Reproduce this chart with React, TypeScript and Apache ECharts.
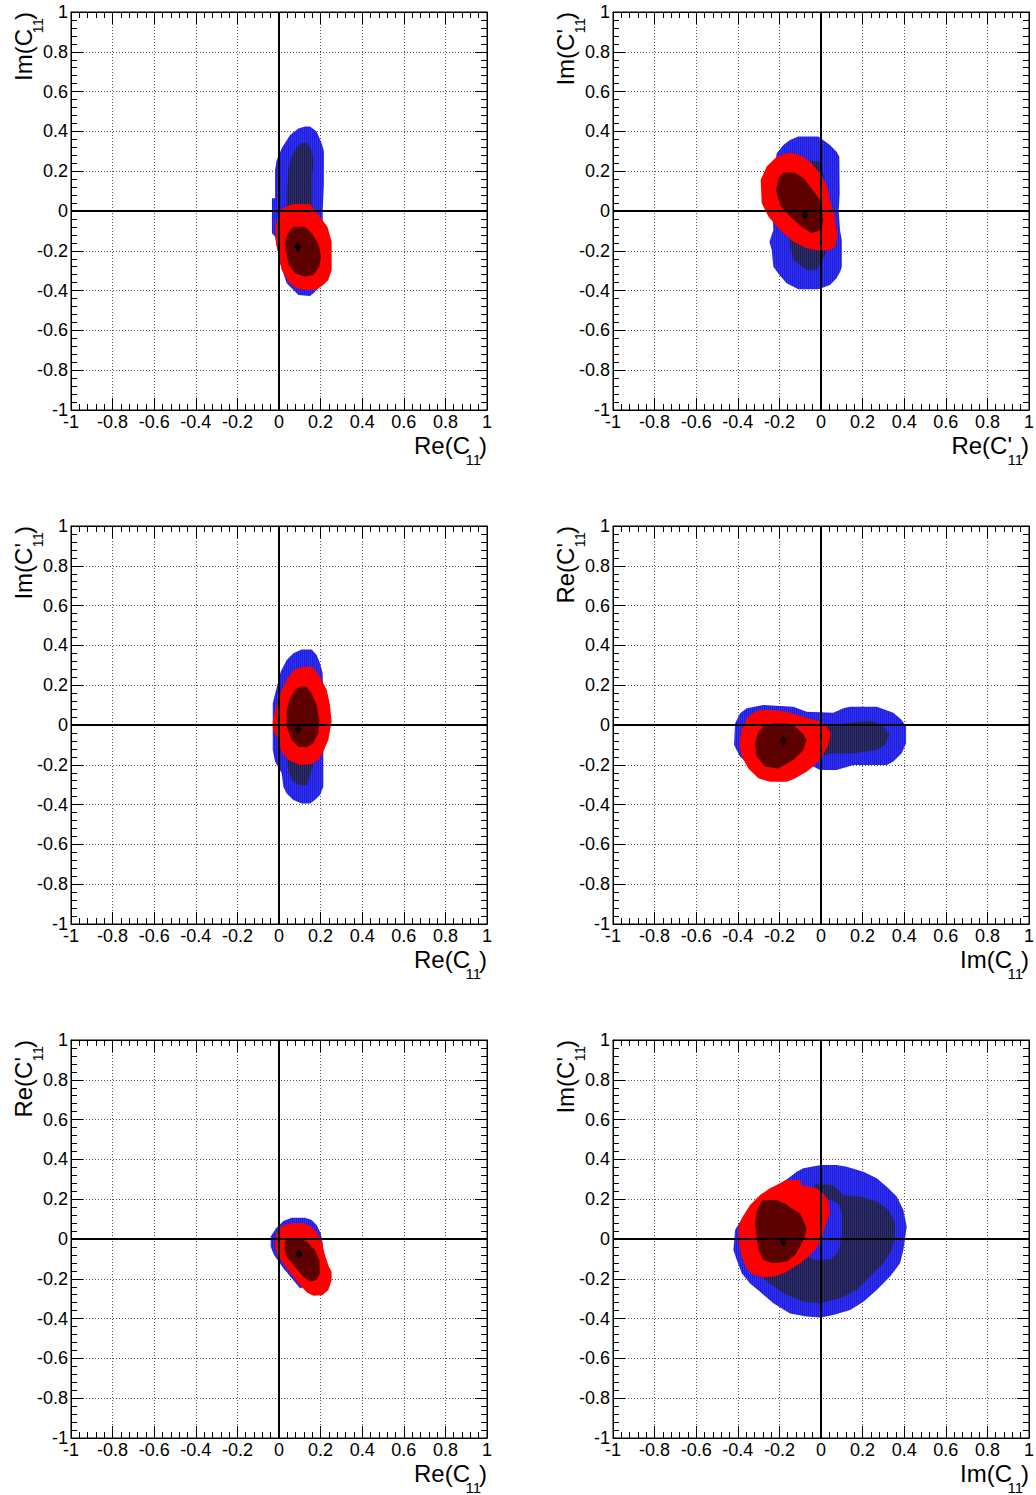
import React, { useEffect, useRef } from "react";
import * as echarts from "echarts";

type Pt = [number, number];

// Axis ticks shared by every panel
const tickValues = [-1, -0.8, -0.6, -0.4, -0.2, 0, 0.2, 0.4, 0.6, 0.8, 1];

// Panel 1: Re(C11) vs Im(C11)
const p1OuterBlue: Pt[] = [[0.125,0.424],[0.149,0.424],[0.181,0.399],[0.205,0.34],[0.216,0.3],[0.216,0.14],[0.21,0.0],[0.21,-0.2],[0.205,-0.33],[0.197,-0.38],[0.17,-0.41],[0.149,-0.427],[0.093,-0.422],[0.037,-0.363],[0.005,-0.263],[-0.019,-0.13],[-0.034,-0.112],[-0.034,0.064],[-0.019,0.064],[-0.019,0.206],[-0.011,0.256],[0.013,0.315],[0.053,0.382],[0.093,0.415]];
const p1InnerBlue: Pt[] = [[0.111,0.342],[0.135,0.342],[0.157,0.306],[0.165,0.26],[0.165,0.22],[0.157,0.17],[0.16,0.0],[0.17,-0.2],[0.14,-0.3],[0.09,-0.3],[0.04,-0.2],[0.037,0.089],[0.045,0.206],[0.06,0.27],[0.085,0.32]];
const p1OuterRed: Pt[] = [[0.069,0.035],[0.149,0.035],[0.197,-0.03],[0.233,-0.079],[0.253,-0.154],[0.253,-0.296],[0.237,-0.347],[0.213,-0.372],[0.181,-0.394],[0.125,-0.397],[0.085,-0.389],[0.045,-0.355],[0.013,-0.297],[-0.003,-0.213],[-0.014,-0.163],[-0.019,-0.079],[0.005,0.005],[0.037,0.022]];
const p1InnerRed: Pt[] = [[0.069,-0.079],[0.125,-0.079],[0.157,-0.112],[0.189,-0.163],[0.202,-0.23],[0.194,-0.28],[0.165,-0.322],[0.125,-0.33],[0.077,-0.313],[0.048,-0.271],[0.034,-0.204],[0.029,-0.163],[0.04,-0.121],[0.061,-0.087]];
const p1Best: Pt = [0.09, -0.18];

// Panel 2: Re(C'11) vs Im(C'11)
const p2OuterBlue: Pt[] = [[-0.109,0.374],[-0.013,0.374],[0.043,0.332],[0.075,0.298],[0.088,0.273],[0.09,0.09],[0.085,0.0],[0.092,-0.1],[0.1,-0.146],[0.1,-0.28],[0.092,-0.305],[0.075,-0.338],[0.043,-0.372],[-0.013,-0.393],[-0.109,-0.393],[-0.165,-0.363],[-0.2,-0.321],[-0.229,-0.28],[-0.237,-0.196],[-0.248,-0.154],[-0.229,-0.095],[-0.24,0.1],[-0.213,0.29],[-0.181,0.332],[-0.149,0.357]];
const p2InnerBlue: Pt[] = [[-0.045,0.253],[-0.005,0.248],[0.011,0.189],[0.024,0.039],[0.031,-0.129],[0.024,-0.213],[-0.021,-0.296],[-0.069,-0.296],[-0.133,-0.246],[-0.149,-0.179],[-0.165,0.039],[-0.085,0.223]];
const p2OuterRed: Pt[] = [[-0.165,0.29],[-0.133,0.29],[-0.085,0.273],[-0.045,0.24],[-0.005,0.189],[0.031,0.122],[0.043,0.055],[0.063,-0.012],[0.079,-0.12],[0.068,-0.179],[0.043,-0.196],[-0.005,-0.2],[-0.069,-0.187],[-0.133,-0.154],[-0.197,-0.095],[-0.253,-0.028],[-0.285,0.039],[-0.29,0.156],[-0.261,0.223],[-0.213,0.273]];
const p2InnerRed: Pt[] = [[-0.181,0.193],[-0.125,0.193],[-0.085,0.164],[-0.045,0.114],[-0.005,0.055],[0.011,-0.045],[0.003,-0.095],[-0.045,-0.112],[-0.093,-0.079],[-0.149,-0.028],[-0.197,0.03],[-0.216,0.106],[-0.205,0.164]];
const p2Best: Pt = [-0.077, -0.02];

// Panel 3: Re(C11) vs Im(C'11)
const p3OuterBlue: Pt[] = [[0.109,0.38],[0.157,0.38],[0.181,0.352],[0.197,0.31],[0.21,0.26],[0.215,0.0],[0.213,-0.142],[0.213,-0.31],[0.197,-0.352],[0.173,-0.377],[0.149,-0.394],[0.109,-0.394],[0.069,-0.377],[0.037,-0.344],[0.021,-0.31],[0.013,-0.243],[-0.019,-0.184],[-0.03,-0.126],[-0.03,0.109],[-0.014,0.176],[0.008,0.268],[0.037,0.327],[0.069,0.36]];
const p3InnerBlue: Pt[] = [[0.1,0.2],[0.15,0.2],[0.18,0.05],[0.165,-0.193],[0.149,-0.26],[0.133,-0.302],[0.093,-0.302],[0.061,-0.276],[0.04,-0.21],[0.04,0.05]];
const p3OuterRed: Pt[] = [[0.117,0.293],[0.157,0.293],[0.181,0.268],[0.205,0.226],[0.23,0.176],[0.245,0.1],[0.253,0.017],[0.237,-0.076],[0.213,-0.134],[0.189,-0.176],[0.157,-0.196],[0.101,-0.201],[0.045,-0.176],[0.013,-0.134],[-0.011,-0.059],[-0.03,-0.017],[-0.03,0.017],[-0.014,0.092],[0.013,0.176],[0.045,0.243],[0.077,0.28]];
const p3InnerRed: Pt[] = [[0.101,0.193],[0.133,0.193],[0.157,0.159],[0.181,0.1],[0.194,0.025],[0.189,-0.042],[0.165,-0.092],[0.133,-0.112],[0.093,-0.109],[0.061,-0.076],[0.037,-0.008],[0.037,0.075],[0.053,0.134],[0.077,0.176]];
const p3Best: Pt = [0.093, -0.022];

// Panel 4: Im(C11) vs Re(C'11)
const p4OuterBlue: Pt[] = [[-0.277,0.1],[-0.133,0.092],[-0.069,0.067],[0.059,0.062],[0.108,0.084],[0.14,0.092],[0.268,0.092],[0.348,0.062],[0.388,0.025],[0.409,-0.008],[0.409,-0.092],[0.388,-0.142],[0.348,-0.184],[0.316,-0.201],[0.156,-0.201],[0.075,-0.226],[-0.005,-0.226],[-0.037,-0.209],[-0.245,-0.251],[-0.325,-0.218],[-0.389,-0.159],[-0.418,-0.1],[-0.413,0.008],[-0.389,0.059],[-0.357,0.084]];
const p4InnerBlue: Pt[] = [[-0.25,0.03],[0.059,0.003],[0.124,0.008],[0.18,0.017],[0.252,0.017],[0.3,-0.008],[0.329,-0.05],[0.308,-0.1],[0.268,-0.126],[0.156,-0.142],[0.059,-0.142],[-0.25,-0.2]];
const p4OuterRed: Pt[] = [[-0.293,0.075],[-0.229,0.075],[-0.165,0.067],[-0.085,0.042],[-0.005,0.017],[0.027,-0.008],[0.047,-0.042],[0.035,-0.1],[0.011,-0.151],[-0.021,-0.193],[-0.069,-0.235],[-0.133,-0.273],[-0.165,-0.285],[-0.245,-0.285],[-0.301,-0.268],[-0.349,-0.218],[-0.381,-0.159],[-0.393,-0.092],[-0.381,-0.025],[-0.357,0.034],[-0.325,0.062]];
const p4InnerRed: Pt[] = [[-0.229,0.008],[-0.165,0.008],[-0.125,-0.008],[-0.088,-0.042],[-0.069,-0.075],[-0.085,-0.126],[-0.133,-0.176],[-0.205,-0.218],[-0.269,-0.209],[-0.309,-0.159],[-0.317,-0.092],[-0.301,-0.034],[-0.269,0]];
const p4Best: Pt = [-0.181, -0.079];

// Panel 5: Re(C11) vs Re(C'11)
const p5OuterBlue: Pt[] = [[0.061,0.107],[0.125,0.107],[0.157,0.096],[0.181,0.07],[0.2,0.029],[0.21,-0.02],[0.213,-0.08],[0.205,-0.214],[0.101,-0.248],[0.021,-0.147],[-0.024,-0.08],[-0.04,-0.039],[-0.04,0.012],[-0.014,0.054],[0.021,0.091]];
const p5InnerBlue: Pt[] = [];
const p5OuterRed: Pt[] = [[0.053,0.079],[0.117,0.079],[0.149,0.067],[0.181,0.037],[0.205,-0.013],[0.221,-0.08],[0.24,-0.139],[0.253,-0.164],[0.253,-0.206],[0.237,-0.256],[0.21,-0.281],[0.165,-0.285],[0.133,-0.268],[0.101,-0.231],[0.061,-0.181],[0.021,-0.122],[-0.011,-0.08],[-0.019,-0.03],[-0.014,0.029],[0.008,0.062]];
const p5InnerRed: Pt[] = [[0.045,0.003],[0.101,0.003],[0.133,-0.013],[0.173,-0.055],[0.194,-0.105],[0.197,-0.172],[0.181,-0.206],[0.149,-0.214],[0.117,-0.189],[0.077,-0.139],[0.037,-0.089],[0.026,-0.047],[0.029,-0.013]];
const p5Best: Pt = [0.096, -0.077];

// Panel 6: Im(C11) vs Im(C'11)
const p6OuterBlue: Pt[] = [[0.0,0.372],[0.075,0.372],[0.124,0.363],[0.204,0.338],[0.268,0.305],[0.316,0.263],[0.364,0.213],[0.396,0.146],[0.412,0.062],[0.396,-0.055],[0.38,-0.122],[0.332,-0.189],[0.268,-0.256],[0.204,-0.315],[0.14,-0.357],[0.059,-0.382],[0.0,-0.395],[-0.069,-0.39],[-0.149,-0.374],[-0.229,-0.323],[-0.293,-0.265],[-0.341,-0.223],[-0.381,-0.172],[-0.405,-0.105],[-0.421,-0.055],[-0.413,0.045],[-0.389,0.087],[-0.325,0.162],[-0.245,0.246],[-0.157,0.305],[-0.117,0.338],[-0.085,0.355]];
const p6InnerBlue: Pt[] = [[-0.03,0.28],[0.06,0.27],[0.108,0.221],[0.188,0.213],[0.268,0.188],[0.324,0.146],[0.356,0.087],[0.356,0.011],[0.34,-0.055],[0.3,-0.122],[0.236,-0.189],[0.172,-0.256],[0.092,-0.298],[-0.005,-0.323],[-0.085,-0.315],[-0.181,-0.273],[-0.245,-0.223],[-0.309,-0.172],[-0.3,-0.1],[-0.1,-0.08],[-0.02,-0.105],[0.05,-0.1],[0.085,-0.06],[0.1,0.02],[0.1,0.13],[0.085,0.175],[0.05,0.195],[0.0,0.2],[-0.03,0.21]];
const p6OuterRed: Pt[] = [[-0.165,0.296],[-0.101,0.296],[-0.093,0.271],[-0.021,0.254],[0.011,0.229],[0.035,0.196],[0.043,0.129],[0.027,0.087],[0.011,0.028],[-0.005,-0.014],[-0.029,-0.055],[-0.061,-0.089],[-0.101,-0.122],[-0.165,-0.164],[-0.213,-0.186],[-0.277,-0.193],[-0.325,-0.181],[-0.357,-0.147],[-0.381,-0.089],[-0.397,-0.005],[-0.397,0.062],[-0.381,0.104],[-0.341,0.171],[-0.293,0.221],[-0.245,0.255],[-0.197,0.28]];
const p6InnerRed: Pt[] = [[-0.277,0.196],[-0.213,0.196],[-0.173,0.179],[-0.141,0.154],[-0.101,0.129],[-0.085,0.095],[-0.069,0.054],[-0.077,0.012],[-0.101,-0.039],[-0.125,-0.08],[-0.165,-0.114],[-0.229,-0.122],[-0.277,-0.106],[-0.301,-0.055],[-0.309,0.012],[-0.317,0.079],[-0.309,0.137],[-0.293,0.179]];
const p6Best: Pt = [-0.181, -0.014];

// Axis titles: [main part, subscript]
const panels = [
  { xTitle: ["Re(C", "11"], yTitle: ["Im(C", "11"], regions: [p1OuterBlue, p1InnerBlue, p1OuterRed, p1InnerRed], best: p1Best },
  { xTitle: ["Re(C'", "11"], yTitle: ["Im(C'", "11"], regions: [p2OuterBlue, p2InnerBlue, p2OuterRed, p2InnerRed], best: p2Best },
  { xTitle: ["Re(C", "11"], yTitle: ["Im(C'", "11"], regions: [p3OuterBlue, p3InnerBlue, p3OuterRed, p3InnerRed], best: p3Best },
  { xTitle: ["Im(C", "11"], yTitle: ["Re(C'", "11"], regions: [p4OuterBlue, p4InnerBlue, p4OuterRed, p4InnerRed], best: p4Best },
  { xTitle: ["Re(C", "11"], yTitle: ["Re(C'", "11"], regions: [p5OuterBlue, p5InnerBlue, p5OuterRed, p5InnerRed], best: p5Best },
  { xTitle: ["Im(C", "11"], yTitle: ["Im(C'", "11"], regions: [p6OuterBlue, p6InnerBlue, p6OuterRed, p6InnerRed], best: p6Best },
];

// Fill colour and the darker bin-edge stripe colour of each contour level
const regionColors = ["#3232f6", "#30306e", "#ff0000", "#5c0000"];
const regionStripes = ["#1e1ed8", "#1c1c4c", null, null];

const FONT = "'Liberation Sans', Arial, Helvetica, sans-serif";
const colLeft = [71, 613];
const rowTop = [12, 526, 1040];
const plotW = 416;
const plotH = 398;

// Vertical bin stripes for the blue levels, as a repeating canvas pattern
function stripeFill(base: string, stripe: string | null): any {
  if (!stripe) return base;
  const c = document.createElement("canvas");
  c.width = 2;
  c.height = 4;
  const ctx = c.getContext("2d");
  if (!ctx) return base;
  ctx.fillStyle = base;
  ctx.fillRect(0, 0, 2, 4);
  ctx.fillStyle = stripe;
  ctx.fillRect(0, 0, 1, 4);
  return { image: c, repeat: "repeat" };
}

function polygonRenderer(pts: Pt[], fill: any) {
  return (params: any, api: any) => {
    if (params.dataIndex !== 0) return null;
    return {
      type: "polygon",
      shape: { points: pts.map((p) => api.coord(p)) },
      style: { fill },
    };
  };
}

function axisTitle(x: number, y: number, rotated: boolean, main: string, sub: string) {
  return {
    type: "group",
    x,
    y,
    rotation: rotated ? Math.PI / 2 : 0,
    silent: true,
    children: [
      { type: "text", x: -17, y: -8.6, style: { text: main, fontSize: 24, fontFamily: FONT, fill: "#000", align: "right", verticalAlign: "middle" } },
      { type: "text", x: -6, y: 5, style: { text: sub, fontSize: 15, lineHeight: 10, fontFamily: FONT, fill: "#000", align: "right", verticalAlign: "middle" } },
      { type: "text", x: 0, y: -8.6, style: { text: ")", fontSize: 24, fontFamily: FONT, fill: "#000", align: "right", verticalAlign: "middle" } },
    ],
  };
}

function baseAxis(gridIndex: number, position: string, main: boolean) {
  return {
    type: "value",
    gridIndex,
    position,
    min: tickValues[0],
    max: tickValues[tickValues.length - 1],
    interval: 0.2,
    axisLine: { show: true, onZero: false, lineStyle: { color: "#000", width: 1 } },
    axisTick: { show: true, inside: true, length: 12, lineStyle: { color: "#000", width: 1 } },
    minorTick: { show: true, splitNumber: 5, length: 6, lineStyle: { color: "#000", width: 1 } },
    axisLabel: {
      show: main,
      margin: 3,
      color: "#000",
      fontSize: 18,
      fontFamily: FONT,
      showMinLabel: true,
      showMaxLabel: true,
      hideOverlap: false,
    },
    splitLine: { show: main, lineStyle: { color: "#555", width: 1, type: [1, 2] } },
    minorSplitLine: { show: false },
  };
}

export default function App() {
  const ref = useRef<HTMLDivElement>(null);

  useEffect(() => {
    if (!ref.current) return;
    const chart = echarts.init(ref.current, undefined, { renderer: "svg" });

    const fills = regionColors.map((c, r) => stripeFill(c, regionStripes[r]));

    const grids: any[] = [];
    const xAxes: any[] = [];
    const yAxes: any[] = [];
    const series: any[] = [];
    const graphics: any[] = [];

    panels.forEach((panel, i) => {
      const left = colLeft[i % 2];
      const top = rowTop[Math.floor(i / 2)];
      grids.push({
        left,
        top,
        width: plotW,
        height: plotH,
        show: true,
        borderColor: "#000",
        borderWidth: 1,
        backgroundColor: "transparent",
        containLabel: false,
        outerBoundsMode: "none",
      });
      xAxes.push(baseAxis(i, "bottom", true));
      xAxes.push(baseAxis(i, "top", false));
      yAxes.push(baseAxis(i, "left", true));
      yAxes.push(baseAxis(i, "right", false));

      panel.regions.forEach((pts, r) => {
        if (!pts.length) return;
        series.push({
          type: "custom",
          xAxisIndex: 2 * i,
          yAxisIndex: 2 * i,
          data: pts,
          silent: true,
          z: 2 + r,
          renderItem: polygonRenderer(pts, fills[r]),
        });
      });

      series.push({
        type: "scatter",
        xAxisIndex: 2 * i,
        yAxisIndex: 2 * i,
        data: [panel.best],
        symbol: "diamond",
        symbolSize: [7, 10],
        itemStyle: { color: "#000" },
        silent: true,
        z: 12,
        markLine: {
          silent: true,
          symbol: ["none", "none"],
          z: 10,
          label: { show: false },
          lineStyle: { color: "#000", width: 2, type: "solid" },
          data: [{ xAxis: 0 }, { yAxis: 0 }],
        },
      });

      const right = left + plotW;
      const bottom = top + plotH;
      graphics.push(axisTitle(right, bottom + 44, false, panel.xTitle[0], panel.xTitle[1]));
      graphics.push(axisTitle(left - 39, top, true, panel.yTitle[0], panel.yTitle[1]));
    });

    chart.setOption({
      animation: false,
      backgroundColor: "#fff",
      grid: grids,
      xAxis: xAxes,
      yAxis: yAxes,
      series,
      graphic: { elements: graphics },
    });

    return () => chart.dispose();
  }, []);

  return (
    <div
      ref={ref}
      style={{ position: "absolute", left: 0, top: 0, width: 1036, height: 1495, background: "#fff" }}
    />
  );
}
